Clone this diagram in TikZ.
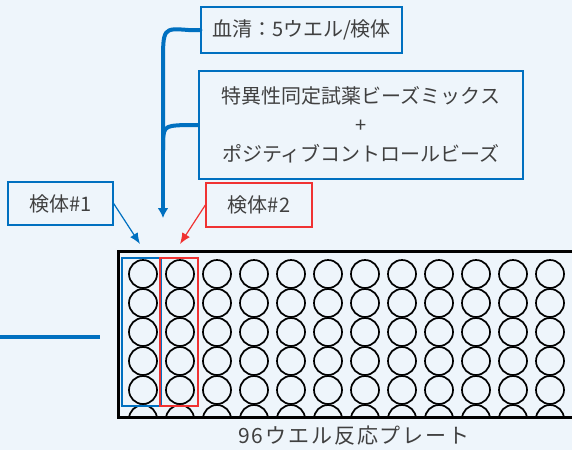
\documentclass[tikz,border=0pt]{standalone}
\usepackage{fontspec}
\usepackage{xcolor}
\usetikzlibrary{arrows.meta}
\newfontfamily\jp{Noto Sans CJK JP}
\definecolor{fondo}{RGB}{238,245,251}
\definecolor{azul}{RGB}{0,112,192}
\definecolor{rojo}{RGB}{240,50,50}
\definecolor{texto}{RGB}{64,64,64}
\tikzset{
	caja/.style={draw=azul,line width=1.3pt,fill=fondo,text=texto,
		font=\jp\fontsize{20}{29}\selectfont,align=center,inner sep=0pt},
	flecha/.style={line width=1.2pt,-{Latex[length=11pt,width=9pt]}},
}

\begin{document}
\begin{tikzpicture}[x=1pt,y=-1pt,>=latex]
		\clip (0,0) rectangle (572,450);
		\fill[fondo] (0,0) rectangle (572,450);
		% cajas de texto
		\node[caja,minimum width=201,minimum height=46] (suero) at (301.5,30) {血清：5ウエル/検体};
		\node[caja,minimum width=324,minimum height=108] (perlas) at (361,125)
		{特異性同定試薬ビーズミックス\\+\\ポジティブコントロールビーズ};
		\node[caja,minimum width=105,minimum height=43] (m1) at (60.5,203.5) {検体\#1};
		\node[caja,draw=rojo,minimum width=106,minimum height=44] (m2) at (259,205) {検体\#2};
		\coordinate (union) at (163,150);
		\coordinate (punta) at (163,218);
		\coordinate (p1) at (140,244);
		\coordinate (p2) at (180,244);
		% flechas
		\draw[azul,line width=4pt,line cap=round] 
		(suero.west) -- ++(-12,0) .. controls (163,28) .. (163,64) -- (union);
		\draw[azul,line width=4pt] 
		(perlas.west) -- ++(-14,0) .. controls (163,126) .. (union);
		\draw[azul,line width=4pt,-{Latex[length=10pt,width=11pt]}] (union) -- (punta);
		\draw[azul,flecha] (m1.east) -- (p1);
		\draw[rojo,flecha] (m2.west) -- (p2);
		\draw[azul,line width=4pt] (0,337) -- (100,337);
		% placa
		\begin{scope}
			\clip (118,251) rectangle (600,417);
			\foreach \Xc in {0,...,11}
			{
				\foreach \Yc in {0,...,5}
				{
					\draw[line width=1.7pt] ({143+37*\Xc},{274+29*\Yc}) circle (14pt);
				}
			}
		\end{scope}
		\draw[azul,line width=1.5pt] (122,258) rectangle (161,406);
		\draw[rojo,line width=1.5pt] (160,258) rectangle (198,406);
		\draw[line width=3pt] (118,251) rectangle (600,417);
		\node[font=\jp\fontsize{21}{25}\selectfont\addfontfeature{LetterSpace=9},text=texto] (placa) at (354,436) {96ウエル反応プレート};
\end{tikzpicture}
\end{document}
